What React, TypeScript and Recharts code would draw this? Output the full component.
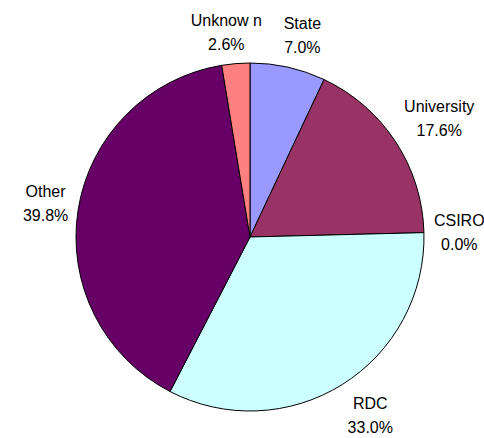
import React from 'react'
import { PieChart, Pie, Cell } from 'recharts'

const categories = ['State', 'University', 'CSIRO', 'RDC', 'Other', 'Unknow n']
const shares = [7.0, 17.6, 0.0, 33.0, 39.8, 2.6]
const colors = ['#9999FF', '#993366', '#FFFFCC', '#CCFFFF', '#660066', '#FF8080']

const data = categories.map((name, i) => ({ name, value: shares[i] }))

const RADIAN = Math.PI / 180
const FONT = "'Liberation Sans', Arial, sans-serif"
const FONT_SIZE = 16
const LINE_GAP = 24

let ctx: CanvasRenderingContext2D | null = null
const textWidth = (s: string) => {
  if (!ctx) ctx = document.createElement('canvas').getContext('2d')
  if (!ctx) return s.length * 8
  ctx.font = `${FONT_SIZE}px ${FONT}`
  return ctx.measureText(s).width
}

const clamp = (v: number) => Math.max(-1, Math.min(1, v))

// label box sits just outside the rim, pushed outward by its own half size
const renderLabel = (props: any) => {
  const { cx, cy, midAngle, index } = props
  const top = categories[index]
  const bottom = `${shares[index].toFixed(1)}%`
  const hw = Math.max(textWidth(top), textWidth(bottom)) / 2
  const hh = 22
  const dx = Math.cos(-midAngle * RADIAN)
  const dy = Math.sin(-midAngle * RADIAN)
  const dist = 184
  const x = cx + dist * dx + hw * clamp(3 * dx)
  const y = cy + dist * dy + hh * clamp(1.5 * dy)
  return (
    <text x={x} y={y} textAnchor="middle" fontFamily={FONT} fontSize={FONT_SIZE} fill="#000">
      <tspan x={x} y={y - 6}>{top}</tspan>
      <tspan x={x} dy={LINE_GAP}>{bottom}</tspan>
    </text>
  )
}

function App() {
  return (
    <div style={{ position: 'absolute', left: 0, top: 0, background: '#fff' }}>
      <PieChart width={484} height={438} margin={{ top: 0, right: 0, bottom: 0, left: 0 }}>
        <Pie
          data={data}
          dataKey="value"
          cx={250}
          cy={237}
          outerRadius={174}
          startAngle={90}
          endAngle={-270}
          stroke="#000"
          strokeWidth={1}
          label={renderLabel}
          labelLine={false}
          isAnimationActive={false}
        >
          {data.map((d, i) => (
            <Cell key={d.name} fill={colors[i]} />
          ))}
        </Pie>
      </PieChart>
    </div>
  )
}

export default App
